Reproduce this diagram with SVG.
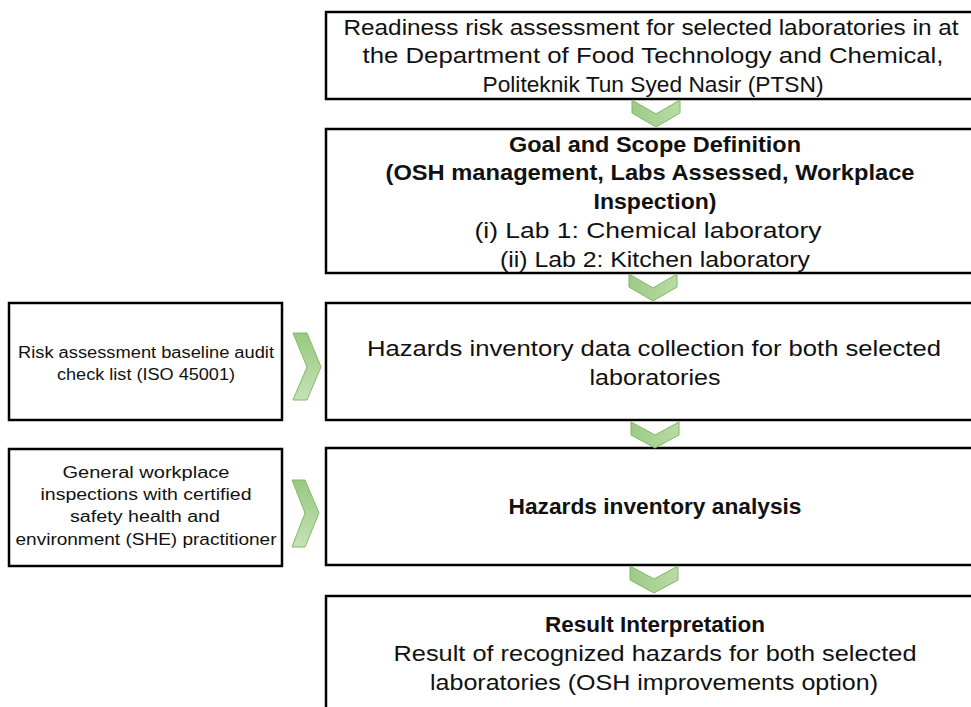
<svg xmlns="http://www.w3.org/2000/svg" width="971" height="707" viewBox="0 0 971 707">
<style>
.box{fill:#fff;stroke:#000;stroke-width:2.5}
.t{font-family:"Liberation Sans","DejaVu Sans",sans-serif;font-size:22px;fill:#111;text-anchor:middle}
.b{font-weight:bold}
.s{font-family:"Liberation Sans","DejaVu Sans",sans-serif;font-size:16px;fill:#111;text-anchor:middle}
.chv{fill:url(#gv);stroke:#7fba63;stroke-width:1}
.chh{fill:url(#gh);stroke:#7fba63;stroke-width:1}
</style>
<defs>
<linearGradient id="gv" x1="0" y1="0" x2="1" y2="0">
<stop offset="0" stop-color="#9dcb86"/>
<stop offset="1" stop-color="#b9dba6"/>
</linearGradient>
<linearGradient id="gh" x1="0" y1="0" x2="0" y2="1">
<stop offset="0" stop-color="#98c980"/>
<stop offset="1" stop-color="#c6e1b7"/>
</linearGradient>
</defs>
<rect width="971" height="707" fill="#fff"/>
<g id="n1">
<rect class="box" x="326" y="12" width="660" height="87"/>
<text class="t" x="651" y="35" textLength="615" lengthAdjust="spacingAndGlyphs">Readiness risk assessment for  selected laboratories in at</text>
<text class="t" x="653" y="63" textLength="581" lengthAdjust="spacingAndGlyphs">the Department of Food Technology and Chemical,</text>
<text class="t" x="653" y="92" textLength="341" lengthAdjust="spacingAndGlyphs">Politeknik Tun Syed Nasir (PTSN)</text>
</g>
<g id="n2">
<rect class="box" x="326" y="129" width="660" height="144"/>
<text class="t b" x="655" y="152" textLength="292" lengthAdjust="spacingAndGlyphs">Goal and Scope Definition</text>
<text class="t b" x="650" y="180" textLength="529" lengthAdjust="spacingAndGlyphs">(OSH management, Labs Assessed, Workplace</text>
<text class="t b" x="655" y="209" textLength="123" lengthAdjust="spacingAndGlyphs">Inspection)</text>
<text class="t" x="648" y="238" textLength="347" lengthAdjust="spacingAndGlyphs">(i) Lab 1: Chemical laboratory</text>
<text class="t" x="655" y="267" textLength="310" lengthAdjust="spacingAndGlyphs">(ii) Lab 2: Kitchen laboratory</text>
</g>
<g id="n3">
<rect class="box" x="326" y="303" width="660" height="117"/>
<text class="t" x="654" y="356" textLength="574" lengthAdjust="spacingAndGlyphs">Hazards inventory data collection for both selected</text>
<text class="t" x="655" y="385" textLength="131" lengthAdjust="spacingAndGlyphs">laboratories</text>
</g>
<g id="n4">
<rect class="box" x="326" y="448" width="660" height="117"/>
<text class="t b" x="655" y="514" textLength="293" lengthAdjust="spacingAndGlyphs">Hazards inventory analysis</text>
</g>
<g id="n5">
<rect class="box" x="326" y="596" width="660" height="130"/>
<text class="t b" x="655" y="632" textLength="220" lengthAdjust="spacingAndGlyphs">Result Interpretation</text>
<text class="t" x="655" y="661" textLength="523" lengthAdjust="spacingAndGlyphs">Result of recognized hazards  for both selected</text>
<text class="t" x="654" y="690" textLength="448" lengthAdjust="spacingAndGlyphs">laboratories (OSH improvements option)</text>
</g>
<g id="l1">
<rect class="box" x="9" y="303" width="273" height="117"/>
<text class="s" x="146" y="358" textLength="256" lengthAdjust="spacingAndGlyphs">Risk assessment baseline audit</text>
<text class="s" x="146" y="380" textLength="178" lengthAdjust="spacingAndGlyphs">check list (ISO 45001)</text>
</g>
<g id="l2">
<rect class="box" x="9" y="449" width="273" height="117"/>
<text class="s" x="146" y="478" textLength="167" lengthAdjust="spacingAndGlyphs">General workplace</text>
<text class="s" x="146" y="500" textLength="211" lengthAdjust="spacingAndGlyphs">inspections with certified</text>
<text class="s" x="145" y="522" textLength="150" lengthAdjust="spacingAndGlyphs">safety health and</text>
<text class="s" x="146" y="545" textLength="261" lengthAdjust="spacingAndGlyphs">environment (SHE) practitioner</text>
</g>
<g id="connectors">
<polygon class="chv" points="632,100 656,114 680,100 680,113 656,127 632,113"/>
<polygon class="chv" points="629,274 653,288 677,274 677,287 653,301 629,287"/>
<polygon class="chv" points="631,422 655,435 679,422 679,435 655,448 631,435"/>
<polygon class="chv" points="630,566 654,579 678,566 678,580 654,593 630,580"/>
<polygon class="chh" points="293,333 307,333 321,367 307,400 293,400 307,367"/>
<polygon class="chh" points="292,480 305,480 319,513 305,547 292,547 305,513"/>
</g>
</svg>
